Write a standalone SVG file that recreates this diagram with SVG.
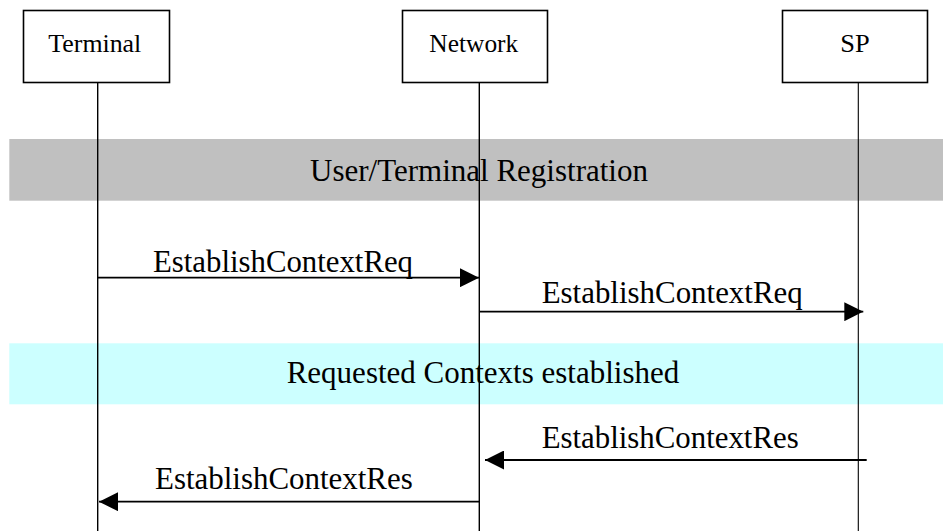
<svg xmlns="http://www.w3.org/2000/svg" width="943" height="531" viewBox="0 0 943 531">
  <style>
    .box { fill: #FFFFFF; stroke: #000000; stroke-width: 1.6; }
    .life { stroke: #000000; stroke-width: 1.4; fill: none; }
    .msg { stroke: #000000; stroke-width: 1.8; fill: none; marker-end: url(#arrow); }
    .lbl { font-family: "Liberation Serif", "Times New Roman", serif; font-size: 25.5px; fill: #000000; }
    .txt { font-family: "Liberation Serif", "Times New Roman", serif; font-size: 31px; fill: #000000; }
  </style>
  <defs>
    <marker id="arrow" markerUnits="userSpaceOnUse" markerWidth="19" markerHeight="19" refX="19" refY="9.5" orient="auto" viewBox="0 0 19 19">
      <path d="M0,0 L19,9.5 L0,19 Z" fill="#000000"/>
    </marker>
  </defs>
  <rect width="943" height="531" fill="#FFFFFF"/>

  <g id="band-registration">
    <rect x="9.3" y="139" width="934" height="61.7" fill="#C0C0C0"/>
  </g>
  <g id="band-contexts">
    <rect x="9.3" y="343.3" width="934" height="61" fill="#CCFFFF"/>
  </g>

  <g id="node-terminal">
    <rect class="box" x="23.5" y="10.5" width="146" height="72"/>
    <line class="life" x1="97.7" y1="82.5" x2="97.7" y2="531"/>
    <text class="lbl" x="48.3" y="52" textLength="93" lengthAdjust="spacingAndGlyphs">Terminal</text>
  </g>
  <g id="node-network">
    <rect class="box" x="402.5" y="10.5" width="145" height="72"/>
    <line class="life" x1="479.3" y1="82.5" x2="479.3" y2="531"/>
    <text class="lbl" x="429.3" y="52" textLength="89" lengthAdjust="spacingAndGlyphs">Network</text>
  </g>
  <g id="node-sp">
    <rect class="box" x="782.5" y="10.5" width="145" height="72"/>
    <line class="life" x1="858.3" y1="82.5" x2="858.3" y2="531" style="stroke-width:1.1"/>
    <text class="lbl" x="840.3" y="52" textLength="29.4" lengthAdjust="spacingAndGlyphs">SP</text>
  </g>

  <g id="band-labels">
    <text class="txt" x="310" y="180.7" textLength="338" lengthAdjust="spacingAndGlyphs">User/Terminal Registration</text>
    <text class="txt" x="286.7" y="382.7" textLength="392.6" lengthAdjust="spacingAndGlyphs">Requested Contexts established</text>
  </g>

  <g id="connectors">
    <line class="msg" x1="97.7" y1="277.7" x2="479" y2="277.7"/>
    <line class="msg" x1="479.3" y1="311.7" x2="863.3" y2="311.7"/>
    <line class="msg" x1="866.7" y1="460" x2="485" y2="460"/>
    <line class="msg" x1="479.3" y1="501.7" x2="99" y2="501.7"/>
    <text class="txt" x="153" y="271.7" textLength="260" lengthAdjust="spacingAndGlyphs">EstablishContextReq</text>
    <text class="txt" x="541.7" y="302.7" textLength="261" lengthAdjust="spacingAndGlyphs">EstablishContextReq</text>
    <text class="txt" x="541.7" y="447.7" textLength="257" lengthAdjust="spacingAndGlyphs">EstablishContextRes</text>
    <text class="txt" x="155" y="489.3" textLength="257.7" lengthAdjust="spacingAndGlyphs">EstablishContextRes</text>
  </g>
</svg>
